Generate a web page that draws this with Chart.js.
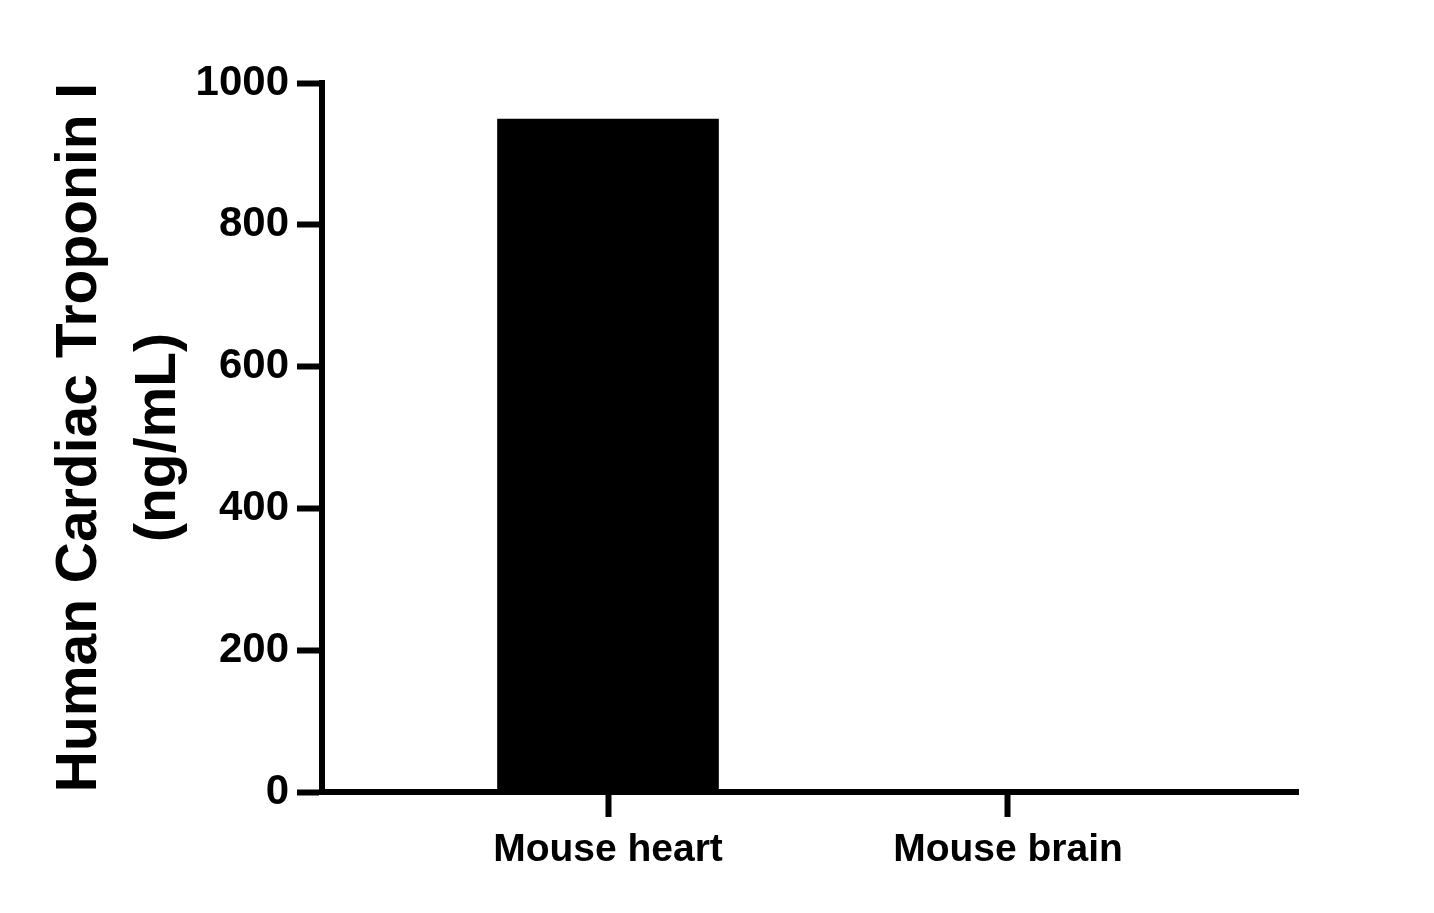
<!DOCTYPE html>
<html><head><meta charset="utf-8">
<script src="https://cdn.jsdelivr.net/npm/chart.js@4/dist/chart.umd.min.js"></script>
<style>html,body{margin:0;padding:0;background:#fff}#w{width:1434px;height:913px}</style>
</head><body><div id="w"><canvas id="c"></canvas></div>
<script>
const categories = ["Mouse heart", "Mouse brain"];
const values = [949, 2];
const yTicks = [0, 200, 400, 600, 800, 1000];

Chart.defaults.font.family = "'Liberation Sans', Arial, sans-serif";
Chart.defaults.font.weight = "bold";
Chart.defaults.color = "#000";

new Chart(document.getElementById('c'), {
  type: 'bar',
  data: { datasets: [{ data: values.map((v, i) => ({ x: i, y: v })), backgroundColor: '#000', barThickness: 221 }] },
  options: {
    responsive: true, maintainAspectRatio: false, animation: false,
    devicePixelRatio: 1,
    layout: { padding: { top: 83, right: 136, left: 0, bottom: 0 } },
    plugins: { legend: { display: false }, tooltip: { enabled: false } },
    scales: {
      x: {
        type: 'linear', min: -0.715, max: 1.725, offset: false,
        afterBuildTicks: s => { s.ticks = categories.map((c, i) => ({ value: i })); },
        afterFit: s => { s.height = 121; },
        ticks: { autoSkip: false, callback: v => categories[Math.round(v)] ?? '', font: { size: 39, weight: 'bold' }, padding: 10, maxRotation: 0 },
        grid: { drawOnChartArea: false, tickLength: 25, tickWidth: 6, color: '#000', offset: false },
        border: { color: '#000', width: 6 }
      },
      y: {
        min: 0, max: 1000,
        afterBuildTicks: s => { s.ticks = yTicks.map(v => ({ value: v })); },
        afterFit: s => { s.width = 322; },
        ticks: { callback: v => String(v), font: { size: 42, weight: 'bold' }, padding: 8 },
        grid: { drawOnChartArea: false, tickLength: 25, tickWidth: 6, color: '#000' },
        border: { color: '#000', width: 6 },
        title: { display: true, text: ["Human Cardiac Troponin I", "(ng/mL)"], font: { size: 57, weight: 'bold', lineHeight: 1.4 }, padding: { top: 40, bottom: 0 } }
      }
    }
  }
});
</script></body></html>
